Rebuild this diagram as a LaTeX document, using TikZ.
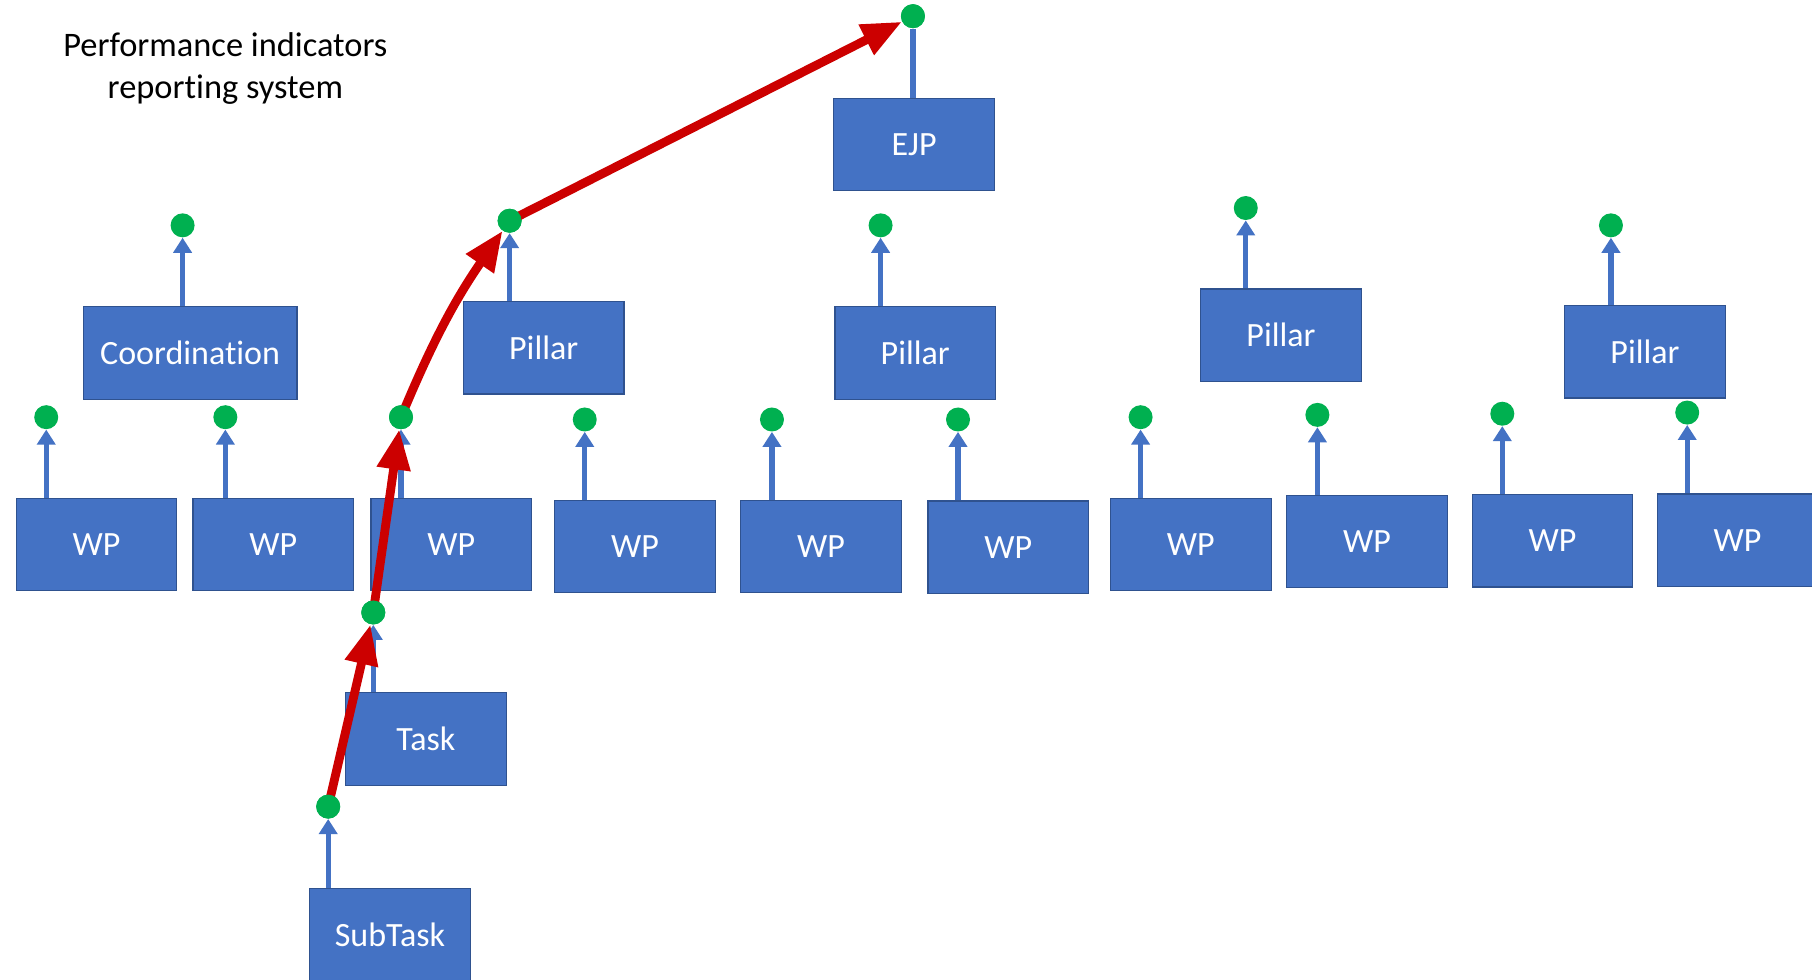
\documentclass[tikz,border=0pt]{standalone}
\usepackage{fontspec}
\setmainfont[Ligatures=NoCommon]{Carlito}
\usetikzlibrary{arrows.meta,backgrounds}
\definecolor{boxblue}{HTML}{4472C4}
\definecolor{boxedge}{HTML}{2F528F}
\definecolor{dotgreen}{HTML}{00B050}
\definecolor{pathred}{HTML}{CC0000}
\begin{document}
\begin{tikzpicture}[x=0.5778pt,y=-0.5778pt,
  box/.style={draw=boxedge,line width=0.6pt,fill=boxblue,text=white,
    minimum width=80.3pt,minimum height=46.2pt,inner sep=0pt,
    font=\fontsize{17}{20}\selectfont},
  kpi/.style={circle,fill=dotgreen,minimum size=12pt,inner sep=0pt},
  uparrow/.style={draw=boxblue,line width=2.6pt,-{Triangle[length=7.5pt,width=9pt]}},
  upline/.style={draw=boxblue,line width=2.6pt},
  redarrow/.style={draw=pathred,line width=4.4pt,-{Triangle[length=20pt,width=16pt]}}]
\useasboundingbox (0,0) rectangle (1568,848);

\node[align=center,font=\fontsize{17.2}{21}\selectfont] (title) at (195,59)
  {Performance indicators\\reporting system};

% boxes
\node[box] (ejp) at (791,125) {EJP};
\node[box,minimum width=106.9pt,minimum height=46.8pt] (coord) at (164.5,305.5) {Coordination};
\node[box] (p1) at (470.5,301) {Pillar};
\node[box] (p2) at (792,305.5) {Pillar};
\node[box] (p3) at (1108.5,290) {Pillar};
\node[box] (p4) at (1423.5,304.5) {Pillar};
\node[box] (wp1) at (83.5,471) {WP};
\node[box] (wp2) at (236.5,471) {WP};
\node[box] (wp3) at (390.5,471) {WP};
\node[box] (wp4) at (549.5,473) {WP};
\node[box] (wp5) at (710.5,473) {WP};
\node[box] (wp6) at (872.5,473.5) {WP};
\node[box] (wp7) at (1030.5,471) {WP};
\node[box] (wp8) at (1183,468.5) {WP};
\node[box] (wp9) at (1343.5,468) {WP};
\node[box] (wp10) at (1503.5,467.5) {WP};
\node[box] (task) at (368.5,639.5) {Task};
\node[box] (sub) at (337.5,808.5) {SubTask};

% indicator dots
\node[kpi] (dejp) at (790,14) {};
\node[kpi] (dcoord) at (158,195) {};
\node[kpi] (dp1) at (441,191) {};
\node[kpi] (dp2) at (762,195) {};
\node[kpi] (dp3) at (1078,180) {};
\node[kpi] (dp4) at (1394,195) {};
\node[kpi] (dwp1) at (40,361) {};
\node[kpi] (dwp2) at (195,361) {};
\node[kpi] (dwp3) at (347,361) {};
\node[kpi] (dwp4) at (506,363) {};
\node[kpi] (dwp5) at (668,363) {};
\node[kpi] (dwp6) at (829,363) {};
\node[kpi] (dwp7) at (987,361) {};
\node[kpi] (dwp8) at (1140,359) {};
\node[kpi] (dwp9) at (1300,358) {};
\node[kpi] (dwp10) at (1460,357) {};
\node[kpi] (dtask) at (323,530) {};
\node[kpi] (dsub) at (284,698) {};

\begin{scope}[on background layer]
  \fill[white] (0,0) rectangle (1568,848);
  \draw[upline] (dejp |- ejp.north) -- (dejp.south);
  \foreach \b/\d in {coord/dcoord,p1/dp1,p2/dp2,p3/dp3,p4/dp4,
      wp1/dwp1,wp2/dwp2,wp3/dwp3,wp4/dwp4,wp5/dwp5,wp6/dwp6,
      wp7/dwp7,wp8/dwp8,wp9/dwp9,wp10/dwp10,task/dtask,sub/dsub}
    \draw[uparrow] (\d |- \b.north) -- (\d.south);
\end{scope}

% red reporting path
\draw[redarrow] (dsub.center) -- (dtask);
\draw[redarrow] (dtask.center) -- (dwp3);
\draw[redarrow] (dwp3.center) to[bend left=6] (dp1);
\draw[redarrow] (dp1.center) -- (dejp);

% dots on top of the red path
\foreach \d in {dsub,dtask,dwp3,dp1,dejp}
  \fill[dotgreen] (\d) circle[radius=6pt];
\end{tikzpicture}
\end{document}
